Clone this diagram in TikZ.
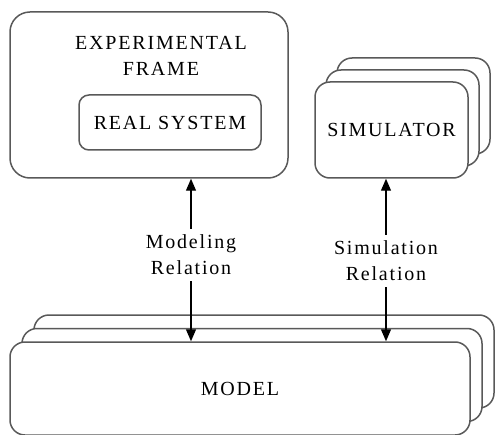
\documentclass[tikz,border=0pt]{standalone}
\usepackage{fontspec}
\setmainfont{Liberation Serif}[LetterSpace=9]
\usetikzlibrary{arrows.meta}

\begin{document}
\begin{tikzpicture}[x=1pt, y=1pt,
    every node/.style={font=\fontsize{20}{26}\selectfont, align=center},
    box/.style={draw=black!65, line width=1.5pt, fill=white, rounded corners=#1},
    box/.default=15pt,
    rel/.style={fill=white, inner xsep=4pt, inner ysep=6pt},
    link/.style={line width=1.2pt, -{Triangle[width=10pt,length=12pt]}}]
  \useasboundingbox (0,0) rectangle (497,434);
  % experimental frame with the real system inside
  \node[box=20pt, minimum width=278pt, minimum height=166pt] (frame) at (149,339) {};
  \node (frametitle) at (161,378) {EXPERIMENTAL\\FRAME};
  \node[box=10pt, minimum width=182pt, minimum height=55pt] (real) at (170,311.5) {REAL SYSTEM};
  % simulator stack
  \foreach \k in {2,1}
    \node[box, minimum width=153pt, minimum height=96pt] (sim\k) at (391.5+11*\k,304+12*\k) {};
  \node[box, minimum width=153pt, minimum height=96pt] (sim) at (391.5,304) {SIMULATOR};
  % model stack
  \foreach \k in {2,1}
    \node[box, minimum width=460pt, minimum height=93pt] (model\k) at (240+12*\k,45.5+13.5*\k) {};
  \node[box, minimum width=460pt, minimum height=93pt] (model) at (240,45.5) {MODEL};
  % relations
  \node[rel] (mrel) at (191,179) {Modeling\\Relation};
  \node[rel] (srel) at (386,173) {Simulation\\Relation};
  \draw[link] (mrel) -- (mrel |- frame.south);
  \draw[link] (mrel) -- (mrel |- model.north);
  \draw[link] (srel) -- (srel |- sim.south);
  \draw[link] (srel) -- (srel |- model.north);
\end{tikzpicture}
\end{document}
